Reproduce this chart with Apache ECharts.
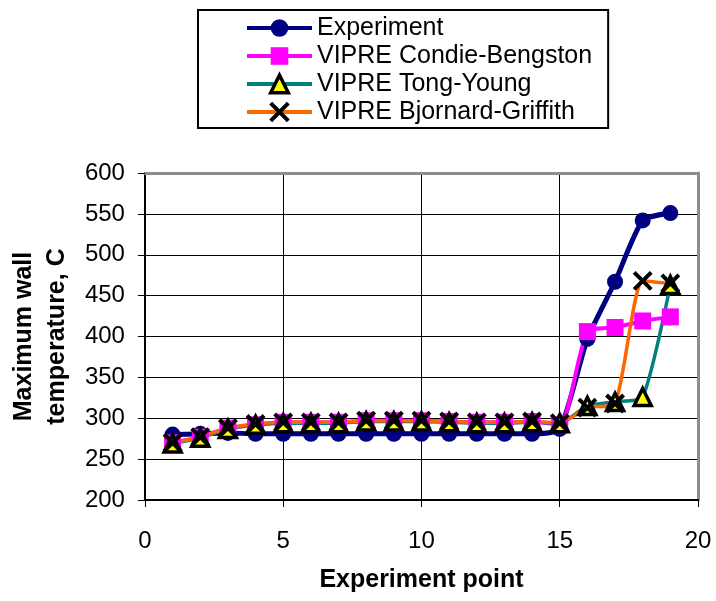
<!DOCTYPE html>
<html>
<head>
<meta charset="utf-8">
<script src="https://cdn.jsdelivr.net/npm/echarts@6/dist/echarts.min.js"></script>
<style>
  html, body { margin: 0; padding: 0; background: #fff; }
  #chart { width: 716px; height: 601px; }
</style>
</head>
<body>
<div id="chart"></div>
<script>
// experiment point numbers
const points = [1, 2, 3, 4, 5, 6, 7, 8, 9, 10, 11, 12, 13, 14, 15, 16, 17, 18, 19];

// maximum wall temperature, C
const experiment = [280, 281, 282, 281, 281, 281, 281, 281, 281, 281, 281, 281, 281, 281, 287, 397, 467, 542, 551];
const condieBengston = [270, 277, 288, 292, 295, 295, 295, 297, 297, 297, 296, 295, 295, 296, 292, 406, 411, 419, 424];
const tongYoung = [269, 276, 287, 292, 294, 294, 294, 296, 296, 296, 295, 294, 294, 295, 294, 315, 320, 326, 463];
const bjornardGriffith = [270, 277, 288, 293, 295, 295, 295, 297, 297, 297, 296, 295, 295, 296, 294, 313, 318, 468, 465];

const seriesNames = ['Experiment', 'VIPRE Condie-Bengston', 'VIPRE Tong-Young', 'VIPRE Bjornard-Griffith'];

const FONT = 'Liberation Sans';
const X_MARK = 'path://M0,0L10,10M10,0L0,10';

function pairs(ys) {
    return points.map((x, i) => [x, ys[i]]);
}

let chart = echarts.init(document.getElementById('chart'), null, { renderer: 'canvas' });

let option = {
    backgroundColor: '#fff',
    animation: false,
    grid: {
        left: 143,
        right: 18,
        top: 173,
        bottom: 101
    },
    legend: {
        orient: 'vertical',
        left: 198,
        top: 10,
        padding: [4, 16, 2, 47],
        borderColor: '#000',
        borderWidth: 2,
        itemWidth: 65,
        itemHeight: 22,
        itemGap: 0,
        lineStyle: { width: 4 },
        textStyle: {
            fontFamily: FONT,
            fontSize: 25,
            color: '#000',
            lineHeight: 28
        },
        data: [
            { name: seriesNames[0] },
            { name: seriesNames[1] },
            { name: seriesNames[2], itemStyle: { borderColor: '#000', borderWidth: 3.5 } },
            { name: seriesNames[3], itemStyle: { borderColor: '#000', borderWidth: 4 } }
        ]
    },
    xAxis: [
        {
            type: 'value',
            min: 0,
            max: 20,
            interval: 5,
            name: 'Experiment point',
            nameLocation: 'middle',
            nameGap: 68,
            nameTextStyle: { fontFamily: FONT, fontSize: 25, fontWeight: 'bold', color: '#000' },
            axisLine: { onZero: false, lineStyle: { color: '#000', width: 2 } },
            axisTick: { show: true, length: 7, lineStyle: { color: '#000', width: 1 } },
            axisLabel: { fontFamily: FONT, fontSize: 24, color: '#000', margin: 29 },
            splitLine: { show: true, showMinLine: false, showMaxLine: false, lineStyle: { color: '#000', width: 1 } }
        },
        {
            // grey frame on top
            type: 'value',
            position: 'top',
            min: 0,
            max: 20,
            axisLine: { onZero: false, lineStyle: { color: '#8c8c8c', width: 3 } },
            axisTick: { show: false },
            axisLabel: { show: false },
            splitLine: { show: false }
        }
    ],
    yAxis: [
        {
            type: 'value',
            min: 200,
            max: 600,
            interval: 50,
            name: 'Maximum wall\ntemperature, C',
            nameLocation: 'middle',
            nameGap: 70,
            nameTextStyle: { fontFamily: FONT, fontSize: 25, fontWeight: 'bold', color: '#000', lineHeight: 33 },
            axisLine: { onZero: false, lineStyle: { color: '#000', width: 2 } },
            axisTick: { show: true, length: 7, lineStyle: { color: '#000', width: 1 } },
            axisLabel: { fontFamily: FONT, fontSize: 24, color: '#000', margin: 20 },
            splitLine: { show: true, showMinLine: false, showMaxLine: false, lineStyle: { color: '#000', width: 1 } }
        },
        {
            // grey frame on the right
            type: 'value',
            position: 'right',
            min: 200,
            max: 600,
            axisLine: { onZero: false, lineStyle: { color: '#8c8c8c', width: 3 } },
            axisTick: { show: false },
            axisLabel: { show: false },
            splitLine: { show: false }
        }
    ],
    series: [
        {
            name: seriesNames[0],
            type: 'line',
            smooth: 0.2,
            data: pairs(experiment),
            symbol: 'circle',
            symbolSize: 16,
            itemStyle: { color: '#000080' },
            lineStyle: { color: '#000080', width: 5 }
        },
        {
            name: seriesNames[1],
            type: 'line',
            smooth: 0.2,
            data: pairs(condieBengston),
            symbol: 'rect',
            symbolSize: 17,
            itemStyle: { color: '#ff00ff' },
            lineStyle: { color: '#ff00ff', width: 4 }
        },
        {
            name: seriesNames[2],
            type: 'line',
            smooth: 0.2,
            data: pairs(tongYoung),
            symbol: 'triangle',
            symbolSize: 17,
            itemStyle: { color: '#ffff00', borderColor: '#000', borderWidth: 3.5 },
            lineStyle: { color: '#008080', width: 3.5 }
        },
        {
            name: seriesNames[3],
            type: 'line',
            smooth: 0.2,
            data: pairs(bjornardGriffith),
            symbol: X_MARK,
            symbolSize: 17,
            itemStyle: { color: '#000', borderColor: '#000', borderWidth: 4 },
            lineStyle: { color: '#ff6600', width: 3.5 }
        }
    ]
};

chart.setOption(option);
</script>
</body>
</html>
